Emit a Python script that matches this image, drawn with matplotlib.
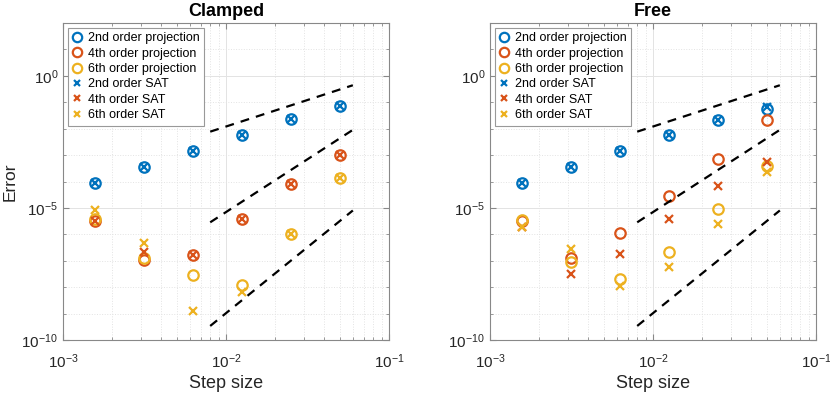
import numpy as np
import matplotlib
matplotlib.use("Agg")
import matplotlib.pyplot as plt
from matplotlib.ticker import LogLocator, NullFormatter

plt.rcParams['font.family'] = ['Liberation Sans', 'DejaVu Sans']
plt.rcParams['mathtext.fontset'] = 'custom'
plt.rcParams['mathtext.rm'] = 'Liberation Sans'

# step sizes
h = [0.0015625, 0.003125, 0.00625, 0.0125, 0.025, 0.05]

# log10 of error
clamped_proj2 = [-4.04, -3.46, -2.86, -2.24, -1.65, -1.15]
clamped_proj4 = [-5.51, -6.96, -6.77, -5.42, -4.10, -2.99]
clamped_proj6 = [-5.42, -6.90, -7.53, -7.90, -5.97, -3.87]
clamped_sat2 = [-4.04, -3.46, -2.86, -2.24, -1.65, -1.15]
clamped_sat4 = [-5.48, -6.65, -6.77, -5.42, -4.10, -2.99]
clamped_sat6 = [-5.06, -6.33, -8.89, -8.17, -5.97, -3.87]

free_proj2 = [-4.04, -3.46, -2.86, -2.24, -1.67, -1.24]
free_proj4 = [-5.51, -6.90, -5.96, -4.56, -3.13, -1.68]
free_proj6 = [-5.47, -7.03, -7.69, -6.68, -5.04, -3.42]
free_sat2 = [-4.04, -3.46, -2.86, -2.24, -1.67, -1.17]
free_sat4 = [-5.72, -7.50, -6.73, -5.42, -4.18, -3.27]
free_sat6 = [-5.72, -6.56, -7.94, -7.22, -5.61, -3.63]

# reference slope lines (end points)
ref_x = [0.008, 0.06]
ref_y1 = [7.7e-3, 0.44]
ref_y2 = [2.85e-6, 9.0e-3]
ref_y3 = [3.4e-10, 8.0e-6]

labels = ["2nd order projection", "4th order projection", "6th order projection",
          "2nd order SAT", "4th order SAT", "6th order SAT"]
colors = ["#0072BD", "#D95319", "#EDB120"]

W, H = 830, 393
fig = plt.figure(figsize=(W / 100, H / 100), dpi=100)


def panel(left, title, proj, sat, ylabel):
    ax = fig.add_axes([left / W, (H - 340) / H, 326 / W, 317 / H])
    for i in range(3):
        ax.plot(h, 10 ** np.array(proj[i]), 'o', ls='none', color=colors[i],
                ms=7.5, mew=1.6, mfc='none', label=labels[i])
    for i in range(3):
        ax.plot(h, 10 ** np.array(sat[i]), 'x', ls='none', color=colors[i],
                ms=5.5, mew=1.6, label=labels[i + 3])
    for ry in [ref_y1, ref_y2, ref_y3]:
        ax.plot(ref_x, ry, color='black', lw=1.6, dashes=(4, 3.2))
    ax.set_xscale('log')
    ax.set_yscale('log')
    ax.set_xlim(1e-3, 1e-1)
    ax.set_ylim(1e-10, 1e2)
    ax.set_yticks([1e-10, 1e-5, 1e0])
    ax.yaxis.set_minor_locator(LogLocator(base=10, subs=[1.0], numticks=20))
    ax.yaxis.set_minor_formatter(NullFormatter())
    ax.xaxis.set_minor_locator(LogLocator(base=10, subs=np.arange(2, 10), numticks=20))
    ax.xaxis.set_minor_formatter(NullFormatter())
    ax.grid(True, which='major', color='#e3e3e3', lw=0.7)
    ax.grid(True, which='minor', color='#e3e3e3', lw=0.7, ls=':')
    ax.set_axisbelow(True)
    ax.tick_params(which='both', direction='in', top=True, right=True,
                   colors='#888888', labelcolor='#262626', labelsize=11)
    ax.tick_params(which='major', length=4)
    ax.tick_params(which='minor', length=2)
    ax.tick_params(axis='x', which='major', pad=9)
    for s in ax.spines.values():
        s.set_color('#888888')
        s.set_linewidth(0.8)
    ax.set_title(title, fontsize=13, fontweight='bold', pad=5)
    ax.set_xlabel("Step size", fontsize=13, color='#262626', labelpad=3)
    if ylabel:
        ax.set_ylabel("Error", fontsize=12.5, color='#262626')
        ax.yaxis.set_label_coords(-0.138, 0.5)
    leg = ax.legend(loc='upper left', fontsize=9, frameon=True, fancybox=False,
                    edgecolor='#999999', borderpad=0.35, labelspacing=0.27,
                    handlelength=0.8, handletextpad=0.45, borderaxespad=0.4,
                    markerscale=0.9, framealpha=1)
    leg.get_frame().set_linewidth(0.8)
    return ax


panel(63, "Clamped",
      [clamped_proj2, clamped_proj4, clamped_proj6],
      [clamped_sat2, clamped_sat4, clamped_sat6], True)
panel(490, "Free",
      [free_proj2, free_proj4, free_proj6],
      [free_sat2, free_sat4, free_sat6], False)

fig.savefig("out.png", dpi=100)
